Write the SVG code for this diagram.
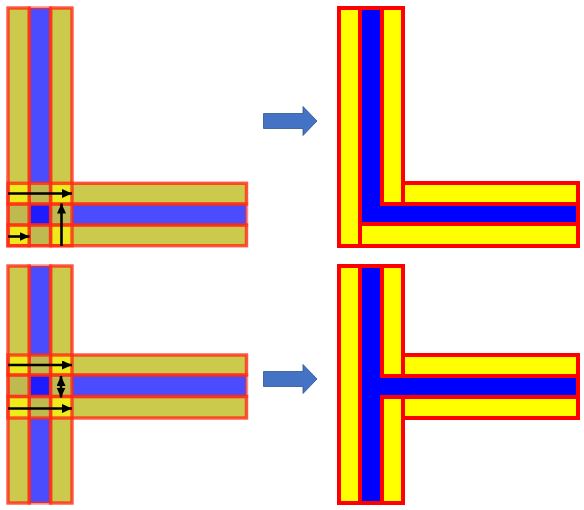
<svg xmlns="http://www.w3.org/2000/svg" width="584" height="510" viewBox="0 0 584 510">
<style>
.y1{fill:#CCCA4C}
.b1{fill:#4C4CFF}
.yy{fill:#EEEA1C}
.bb{fill:#1C1CFF}
.yb{fill:#BEBA50}
.ys{fill:none;stroke:#FF2A14;stroke-opacity:.8;stroke-width:3.4}
.bs{fill:none;stroke:#FF2A14;stroke-opacity:.55;stroke-width:3.4}
.ry{fill:#FFFF00;stroke:#FF0000;stroke-width:4}
.rb{fill:#0000FF;stroke:#FF0000;stroke-width:4}
.blk{fill:none;stroke:#000;stroke-width:2.6}
.blk1{marker-end:url(#ah)}
.blk2{marker-start:url(#ah);marker-end:url(#ah)}
.big{fill:#4472C4;stroke:#2F528F;stroke-width:.8}
</style>
<defs>
<marker id="ah" markerUnits="userSpaceOnUse" markerWidth="11" markerHeight="10" refX="10" refY="4.5" orient="auto-start-reverse">
<path d="M0,0 L10,4.5 L0,9 Z" fill="#000"/>
</marker>
</defs>

<g id="fig-top-left">
<rect class="y1" x="8" y="8" width="21.3" height="237.7"/>
<rect class="b1" x="29.3" y="8" width="21.3" height="237.7"/>
<rect class="y1" x="50.6" y="8" width="21.4" height="237.7"/>
<rect class="y1" x="8" y="183.3" width="238.5" height="20.7"/>
<rect class="b1" x="8" y="204" width="238.5" height="21"/>
<rect class="y1" x="8" y="225" width="238.5" height="20.7"/>
<rect class="yy" x="8" y="183.3" width="21.3" height="20.7"/>
<rect class="yb" x="29.3" y="183.3" width="21.3" height="20.7"/>
<rect class="yy" x="50.6" y="183.3" width="21.4" height="20.7"/>
<rect class="yb" x="8" y="204" width="21.3" height="21"/>
<rect class="bb" x="29.3" y="204" width="21.3" height="21"/>
<rect class="yb" x="50.6" y="204" width="21.4" height="21"/>
<rect class="yy" x="8" y="225" width="21.3" height="20.7"/>
<rect class="yb" x="29.3" y="225" width="21.3" height="20.7"/>
<rect class="yy" x="50.6" y="225" width="21.4" height="20.7"/>
<rect class="ys" x="8" y="8" width="21.3" height="237.7"/>
<rect class="bs" x="29.3" y="8" width="21.3" height="237.7"/>
<rect class="ys" x="50.6" y="8" width="21.4" height="237.7"/>
<rect class="ys" x="8" y="183.3" width="238.5" height="20.7"/>
<rect class="bs" x="8" y="204" width="238.5" height="21"/>
<rect class="ys" x="8" y="225" width="238.5" height="20.7"/>
</g>

<g id="fig-bottom-left">
<rect class="y1" x="8" y="266" width="21.3" height="237"/>
<rect class="b1" x="29.3" y="266" width="21.3" height="237"/>
<rect class="y1" x="50.6" y="266" width="21.4" height="237"/>
<rect class="y1" x="8" y="355" width="238.5" height="20"/>
<rect class="b1" x="8" y="375" width="238.5" height="21.5"/>
<rect class="y1" x="8" y="396.5" width="238.5" height="21.5"/>
<rect class="yy" x="8" y="355" width="21.3" height="20"/>
<rect class="yb" x="29.3" y="355" width="21.3" height="20"/>
<rect class="yy" x="50.6" y="355" width="21.4" height="20"/>
<rect class="yb" x="8" y="375" width="21.3" height="21.5"/>
<rect class="bb" x="29.3" y="375" width="21.3" height="21.5"/>
<rect class="yb" x="50.6" y="375" width="21.4" height="21.5"/>
<rect class="yy" x="8" y="396.5" width="21.3" height="21.5"/>
<rect class="yb" x="29.3" y="396.5" width="21.3" height="21.5"/>
<rect class="yy" x="50.6" y="396.5" width="21.4" height="21.5"/>
<rect class="ys" x="8" y="266" width="21.3" height="237"/>
<rect class="bs" x="29.3" y="266" width="21.3" height="237"/>
<rect class="ys" x="50.6" y="266" width="21.4" height="237"/>
<rect class="ys" x="8" y="355" width="238.5" height="20"/>
<rect class="bs" x="8" y="375" width="238.5" height="21.5"/>
<rect class="ys" x="8" y="396.5" width="238.5" height="21.5"/>
</g>

<g id="fig-top-right">
<rect class="ry" x="339" y="8" width="21" height="238"/>
<rect class="ry" x="360" y="224" width="218" height="22"/>
<polygon class="rb" points="360,8 382,8 382,204 578,204 578,224 360,224"/>
<rect class="ry" x="382" y="8" width="21" height="196"/>
<rect class="ry" x="403" y="183" width="175" height="21"/>
</g>

<g id="fig-bottom-right">
<rect class="ry" x="339" y="266" width="21" height="237"/>
<polygon class="rb" points="360,266 382,266 382,376 578,376 578,397 382,397 382,503 360,503"/>
<rect class="ry" x="382" y="266" width="21" height="110"/>
<rect class="ry" x="382" y="397" width="21" height="106"/>
<rect class="ry" x="403" y="355" width="175" height="21"/>
<rect class="ry" x="403" y="397" width="175" height="21"/>
</g>

<g id="connectors">
<polygon id="arrow-top" class="big" points="263.5,113.5 303,113.5 303,106.5 317,121 303,135.5 303,128.5 263.5,128.5"/>
<polygon id="arrow-bottom" class="big" points="263.5,371.5 303,371.5 303,364.5 317,379 303,393.5 303,386.5 263.5,386.5"/>
</g>

<g id="markers-top">
<line class="blk blk1" x1="8" y1="193.5" x2="72" y2="193.5"/>
<line class="blk blk1" x1="8" y1="236.5" x2="29.5" y2="236.5"/>
<line class="blk blk1" x1="61.5" y1="246" x2="61.5" y2="203.5"/>
</g>

<g id="markers-bottom">
<line class="blk blk1" x1="8" y1="365" x2="72" y2="365"/>
<line class="blk blk1" x1="8" y1="408.5" x2="72" y2="408.5"/>
<line class="blk blk2" x1="61" y1="376" x2="61" y2="397.5"/>
</g>
</svg>
